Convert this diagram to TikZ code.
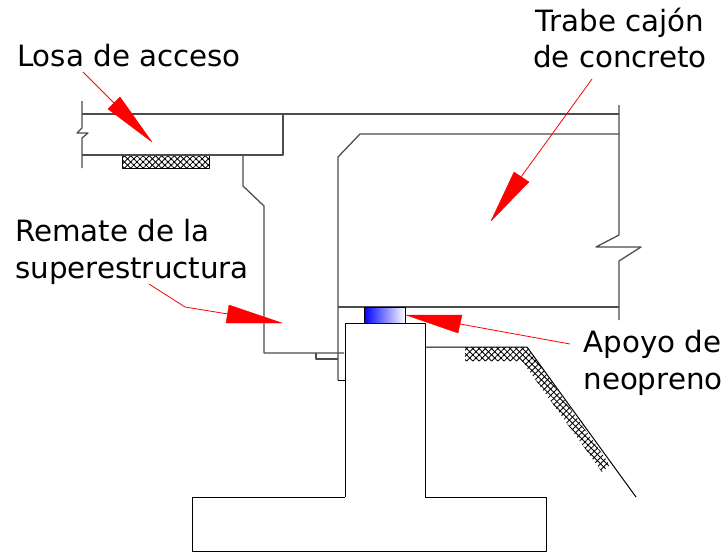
\documentclass[tikz,border=0pt]{standalone}
\usepackage{fontspec}
\setmainfont{DejaVu Sans}
\usetikzlibrary{patterns.meta}
\tikzset{
  linea/.style={draw=black!70, line width=0.95pt},
  lineafina/.style={draw=black, line width=0.75pt},
  achurado/.style={pattern={Lines[angle=45,distance=3.3pt,line width=0.65pt]}, pattern color=black,
    preaction={pattern={Lines[angle=-45,distance=3.3pt,line width=0.65pt]}, pattern color=black}},
  guia/.style={draw=red, line width=0.6pt},
  flecha/.style={fill=red, draw=red, line width=0.3pt, line join=round},
  rotulo/.style={font=\fontsize{22}{27.5}\selectfont, text=black, inner sep=0pt}
}
\begin{document}
\begin{tikzpicture}[x=0.75pt, y=-0.75pt, line join=round]
\useasboundingbox (0,0) rectangle (727,554);
% Achurados
\fill[achurado] (122,155) rectangle (209,168);
\fill[achurado] (465,347)--(527,347)--(610,465)--(602,472)--(522,361)--(465,361)--cycle;
\draw[black, line width=0.6pt] (122,155) rectangle (209,168);
% Losa de acceso
\draw[linea] (82,101)--(82,128)--(77,133)--(88,133)--(82,138)--(82,168);
\draw[linea] (82,114)--(619,114);
\draw[linea] (82,155)--(283,155)--(283,114);
% Remate
\draw[linea] (243,155)--(243,186)--(264,206)--(264,353)--(344,353);
\draw[linea] (316,353)--(316,359)--(338,359);
% Trabe
\draw[linea] (338,380)--(338,157)--(360,134)--(619,134);
\draw[linea] (338,307)--(619,307);
\draw[linea] (619,105)--(619,235)--(596,247)--(641,247)--(619,261)--(619,320);
% Apoyo
\shade[left color=blue, middle color=blue!65, right color=white] (364,307) rectangle (405,323);
\draw[lineafina] (364,307) rectangle (405,323);
% Estribo
\draw[lineafina] (338,380)--(345,380);
\draw[lineafina] (345,497)--(345,323)--(425,323)--(425,497);
\draw[lineafina] (345,497)--(192,497)--(192,551)--(546,551)--(546,497)--(425,497);
\draw[lineafina] (425,347)--(527,347)--(636,497);
% Textos
\node[rotulo, align=center] (losa) at (129,56) {Losa de acceso};
\node[rotulo, align=center] (trabe) at (620,38) {Trabe cajón\\de concreto};
\node[rotulo, align=left] (remate) at (132,252) {Remate de la\\superestructura};
\node[rotulo, align=left] (neopreno) at (653,363) {Apoyo de\\neopreno};
% Guias
\coordinate (g1) at (83,72);
\coordinate (g2) at (114,103);
\coordinate (g3) at (592,79);
\coordinate (g4) at (521,177);
\coordinate (g5) at (149,284);
\coordinate (g6) at (185,307);
\coordinate (g7) at (228,314);
\coordinate (g8) at (570,344);
\coordinate (g9) at (460,324);
\draw[guia] (g1)--(g2);
\draw[guia] (g3)--(g4);
\draw[guia] (g5)--(g6)--(g7);
\draw[guia] (g8)--(g9);
% Flechas
\fill[flecha] (152,142)--(108,109)--(120,97)--cycle;
\fill[flecha] (491,221)--(514,172)--(529,182)--cycle;
\fill[flecha] (282,323)--(229,305)--(226,323)--cycle;
\fill[flecha] (406,315)--(462,315)--(458,333)--cycle;
\end{tikzpicture}
\end{document}
